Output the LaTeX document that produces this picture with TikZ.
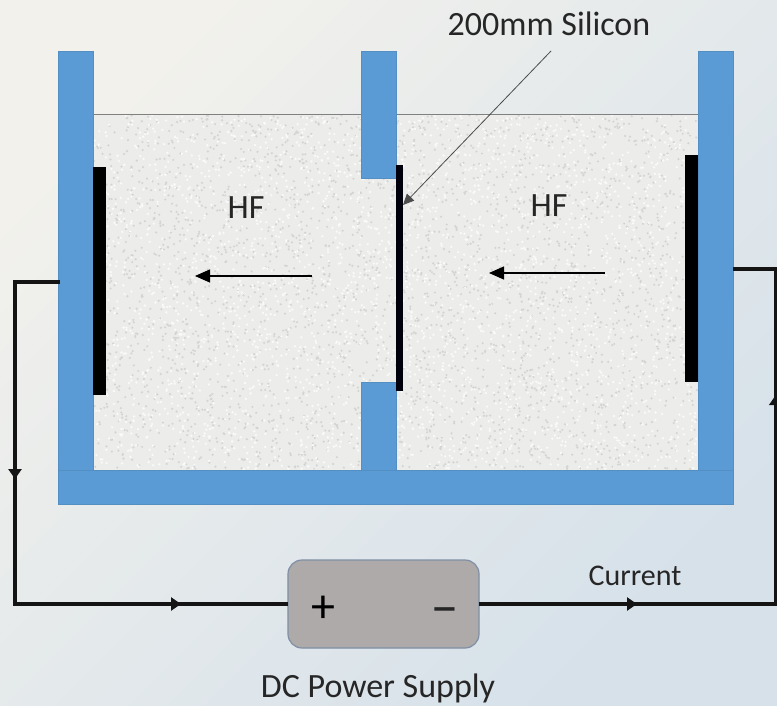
\documentclass[tikz,border=0pt]{standalone}
\usepackage{fontspec}
\setmainfont{Carlito}
\usetikzlibrary{arrows.meta,positioning}
\definecolor{wallblue}{HTML}{5B9BD5}
\definecolor{liquid}{HTML}{ECECEA}
\definecolor{speck}{HTML}{D4D4D2}
\definecolor{speckw}{HTML}{FAFAFA}
\definecolor{psu}{HTML}{AEAAAA}
\definecolor{psuedge}{HTML}{7F8FA5}
\definecolor{txt}{HTML}{262626}
\definecolor{bgA}{HTML}{F2F1EC}
\definecolor{bgB}{HTML}{D6E1EA}
\tikzset{
 wall/.style={fill=wallblue,draw=wallblue!92!black,line width=.4pt,minimum width=#1,inner sep=0pt,outer sep=0pt,anchor=north west},
 plate/.style={fill=black,inner sep=0pt,outer sep=0pt,anchor=north west,minimum width=#1},
 wire/.style={line width=3.2pt,color=black!92,line join=miter},
 flow/.style={line width=1.1pt,-{Triangle[length=15pt,width=13pt]}},
 tick/.style={-{Triangle[length=10pt,width=13pt]},line width=3.2pt,color=black!92},
 lab/.style={text=txt,inner sep=0pt},
}
\begin{document}
\begin{tikzpicture}[x=1pt,y=-1pt]
\useasboundingbox (0,0) rectangle (777,705);
\shade[left color=bgA,right color=bgB,shading angle=45] (0,0) rectangle (777,705);
% liquid
\fill[liquid] (93,114) rectangle (698,470);
\pgfmathsetseed{7}
\foreach \i in {1,...,6000}{
 \pgfmathsetmacro{\px}{94+rnd*603}
 \pgfmathsetmacro{\py}{115+rnd*354}
 \pgfmathtruncatemacro{\k}{mod(\i,2)}
 \ifnum\k=0 \fill[speck] (\px,\py) circle[radius=1.2pt];
 \else \fill[speckw] (\px,\py) circle[radius=1.3pt]; \fi
}
\draw[line width=1pt,black!50] (93,114) -- (698,114);
% walls
\node[wall=35pt,minimum height=419pt] (lw) at (58,51) {};
\node[wall=35pt,minimum height=419pt] (rw) at (698,51) {};
\node[wall=35pt,minimum height=127pt] (mt) at (361,51) {};
\node[wall=35pt,minimum height=88pt] (mb) at (361,382) {};
\node[wall=675pt,minimum height=34pt] (bw) at (58,470) {};
% plates
\node[plate=13pt,minimum height=228pt] (lp) at (93,167) {};
\node[plate=13pt,minimum height=227pt] (rp) at (685,155) {};
\node[plate=7pt,minimum height=226pt,fill=black!95!blue] (si) at (396,165) {};
% power supply
\node[fill=psu,draw=psuedge,line width=1.2pt,rounded corners=14pt,minimum width=191pt,minimum height=88pt,inner sep=0pt,outer sep=0pt] (ps) at (383.5,604) {};
\node[lab,font=\fontsize{48}{48}\selectfont,text=black] (plus) at (323,609) {+};
\node[lab,font=\fontsize{54}{54}\selectfont,text=black!85] (minus) at (445,617) {−};
% labels
\node[lab,font=\fontsize{34}{34}\selectfont] (sil) at (549,24) {200mm Silicon};
\node[lab,font=\fontsize{34}{34}\selectfont] (hf1) at (246,208) {HF};
\node[lab,font=\fontsize{34}{34}\selectfont] (hf2) at (549,206) {HF};
\node[lab,font=\fontsize{30}{30}\selectfont] (cur) at (635,576) {Current};
\node[lab,font=\fontsize{34}{34}\selectfont] (dc) at (378,688.5) {DC Power Supply};
% silicon pointer
\coordinate (silfoot) at (551,51);
\coordinate (siltip) at (403,205);
\draw[line width=.8pt,black!70,-{Triangle[length=11pt,width=10pt]}] (silfoot) -- (siltip);
% flow arrows
\coordinate (fa1) at (312,276); \coordinate (fa2) at (195,276);
\coordinate (fb1) at (605,273); \coordinate (fb2) at (489,273);
\draw[flow] (fa1) -- (fa2);
\draw[flow] (fb1) -- (fb2);
% wires
\coordinate (lc) at (60,282);
\coordinate (rc) at (733,269);
\draw[wire] (lc) -- (15,282) -- (15,604) -- (ps.west);
\draw[wire] (ps.east) -- (775.8,604) -- (775.8,269) -- (rc);
\coordinate (t1a) at (15,460); \coordinate (t1b) at (15,479);
\coordinate (t2a) at (160,604); \coordinate (t2b) at (181,604);
\coordinate (t3a) at (615,604); \coordinate (t3b) at (637,604);
\coordinate (t4a) at (775.8,410); \coordinate (t4b) at (775.8,395);
\draw[tick] (t1a) -- (t1b);
\draw[tick] (t2a) -- (t2b);
\draw[tick] (t3a) -- (t3b);
\draw[tick] (t4a) -- (t4b);
\end{tikzpicture}
\end{document}
